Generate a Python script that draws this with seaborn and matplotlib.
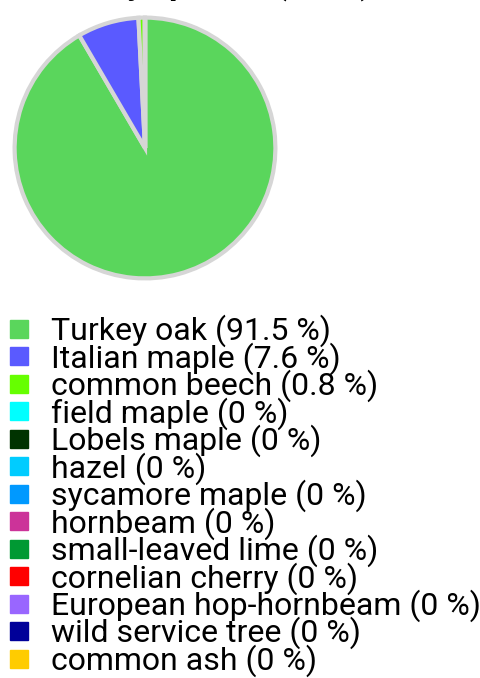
import matplotlib
matplotlib.use("Agg")
import matplotlib.pyplot as plt
from matplotlib.lines import Line2D
import seaborn as sns

species = ["Turkey oak", "Italian maple", "common beech", "field maple",
           "Lobels maple", "hazel", "sycamore maple", "hornbeam",
           "small-leaved lime", "cornelian cherry", "European hop-hornbeam",
           "wild service tree", "common ash"]
share = [91.5, 7.6, 0.8, 0, 0, 0, 0, 0, 0, 0, 0, 0, 0]
colors = ["#5ad65c", "#5a5aff", "#66ff00", "#00ffff", "#003300", "#00ccff",
          "#0099ff", "#cc3399", "#009933", "#ff0000", "#9966ff", "#000099",
          "#ffcc00"]
title = "Trees by species (N/ha)"

sns.set_theme(style="white")
plt.rcParams["font.family"] = ["Roboto", "DejaVu Sans"]
plt.rcParams["text.color"] = "black"

fig = plt.figure(figsize=(4.8, 6.78), dpi=100)
ax = fig.add_axes([12 / 480, 1 - 281 / 678, 266 / 480, 266 / 678])
ax.pie(share, colors=colors, startangle=90, counterclock=False,
       wedgeprops=dict(edgecolor="#d6d6d6", linewidth=3.0))
ax.set_xlim(-1.02, 1.02)
ax.set_ylim(-1.02, 1.02)
ax.set_aspect("equal")
ax.axis("off")

# title sits above the visible area, only the descenders show
fig.text(0.03, 1.009, title, fontsize=24, fontweight="bold", ha="left", va="baseline")

labels = [f"{s} ({v:g} %)" for s, v in zip(species, share)]
handles = [Line2D([], [], marker="s", linestyle="", markersize=13.5,
                  markerfacecolor=c, markeredgecolor=c) for c in colors]
fig.legend(handles, labels, loc="upper left", bbox_to_anchor=(0.0, 1 - 305 / 678),
           frameon=False, fontsize=23, handlelength=0.6, handletextpad=0.7,
           labelspacing=-0.16, borderaxespad=0.0, borderpad=0.3,
           labelcolor="black")

fig.savefig("out.png", dpi=100)
